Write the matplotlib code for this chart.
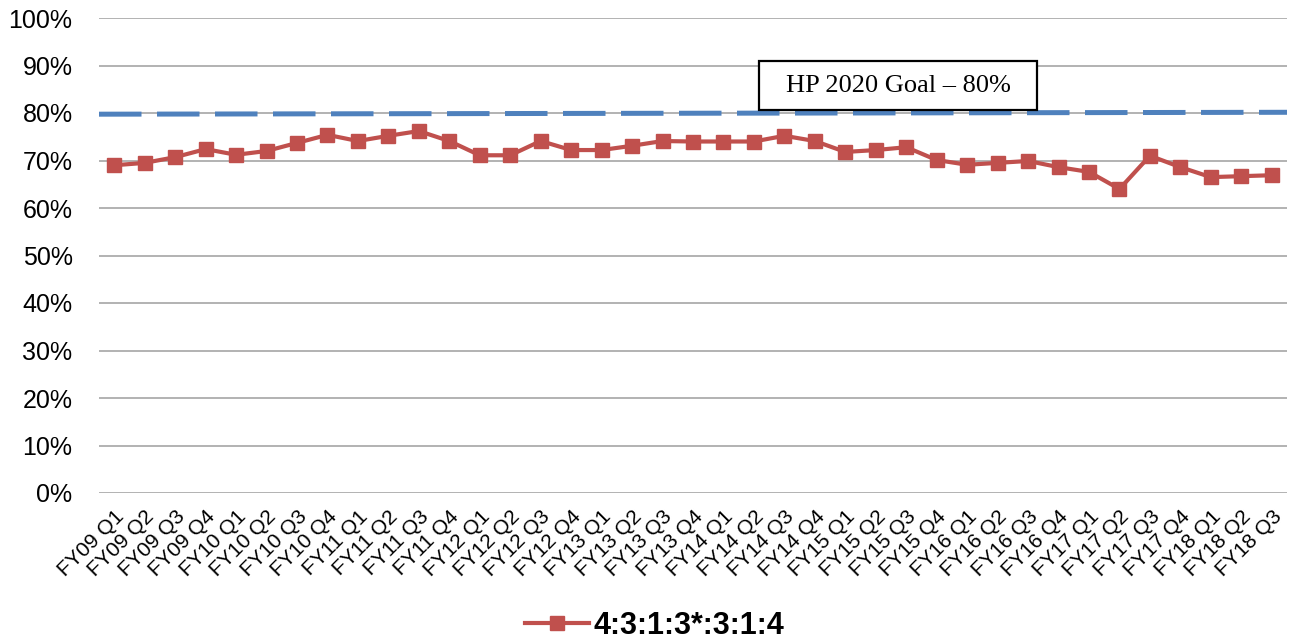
import matplotlib
matplotlib.use("Agg")
import matplotlib.pyplot as plt
from matplotlib.patches import Rectangle
import numpy as np

categories = [f"FY{y:02d} Q{q}" for y in range(9, 19) for q in range(1, 5)][:39]
values = [69.0, 69.5, 70.7, 72.4, 71.2, 72.0, 73.7, 75.4, 74.1, 75.2,
          76.2, 74.1, 71.1, 71.1, 74.1, 72.2, 72.2, 73.1, 74.1, 74.0,
          74.0, 74.0, 75.2, 74.1, 71.8, 72.2, 72.8, 70.1, 69.1, 69.5,
          69.9, 68.6, 67.6, 64.0, 71.0, 68.6, 66.5, 66.7, 66.9]
goal_ends = [79.75, 80.15]
yticks = list(range(0, 101, 10))
series_label = "4:3:1:3*:3:1:4"
goal_text = "HP 2020 Goal \u2013 80%"

W, H = 1289, 644
fig = plt.figure(figsize=(W/100, H/100), dpi=100)
ax = fig.add_axes([99/W, 1 - 493/H, 1188/W, 475/H])

x = np.arange(len(categories))
ax.set_xlim(-0.5, len(categories) - 0.5)
ax.set_ylim(0, 100)

ax.plot([-0.5, len(categories) - 0.5], goal_ends, color="#4F81BD", lw=3.6,
        dashes=(8.5, 3.1), zorder=3)
ax.plot(x, values, color="#C0504D", lw=3, marker="s", markersize=10,
        label=series_label, zorder=4)

ax.set_yticks(yticks)
ax.set_yticklabels([f"{t}%" for t in yticks], fontsize=18,
                   family="Liberation Sans")
ax.set_xticks(x)
ax.set_xticklabels(categories, rotation=45, ha="right", rotation_mode="anchor",
                   fontsize=15.2, family="Liberation Sans")
ax.tick_params(length=0)
ax.tick_params(axis="x", pad=10)
ax.tick_params(axis="y", pad=19)
ax.grid(axis="y", color="#A6A6A6", lw=1.2)
ax.set_axisbelow(True)
for s in ax.spines.values():
    s.set_visible(False)

# annotation box
bx0, bx1, by0, by1 = 759, 1037, 61, 110
fig.patches.append(Rectangle((bx0/W, 1 - by1/H), (bx1-bx0)/W, (by1-by0)/H,
                             transform=fig.transFigure, fc="white", ec="black",
                             lw=1.6, zorder=5))
fig.text((bx0+bx1)/2/W, 1 - (by0+by1)/2/H, goal_text, fontsize=19,
         family="Liberation Serif", va="center", ha="center", zorder=6)

leg = fig.legend(loc="center", frameon=False,
                 prop=dict(family="Liberation Sans", size=22, weight="bold"),
                 handlelength=2.1, handletextpad=0.15, markerscale=1.0)
leg.set_bbox_to_anchor((0.508, 1 - 626/H), transform=fig.transFigure)

fig.savefig("out.png", dpi=100)
